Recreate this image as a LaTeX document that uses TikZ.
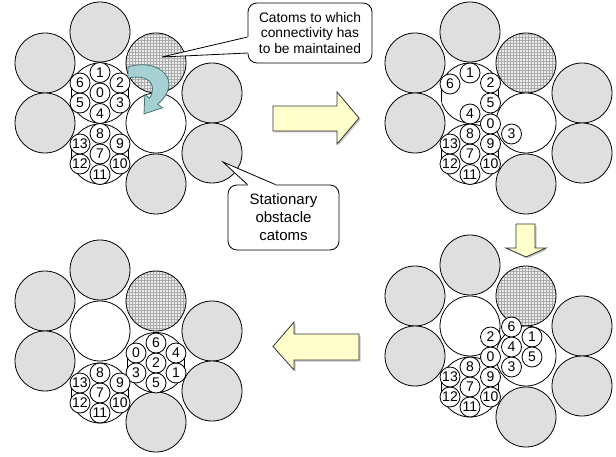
\documentclass[tikz,border=0pt]{standalone}
\usepackage{fontspec}
\setmainfont{Liberation Sans}
\usetikzlibrary{patterns}
\definecolor{arrowyellow}{HTML}{FFFFCC}
\definecolor{turnblue}{HTML}{A5D0D4}
\definecolor{turnedge}{HTML}{4A7276}
\newcommand{\metamod}[2]{% meta-module outline, flat at the sides
  \begin{scope}
    \clip ({#1-28.5},{#2-32}) rectangle ({#1+28.5},{#2+32});
    \draw[fill=white] (#1,#2) circle (30pt);
  \end{scope}
  \draw ({#1-28.5},{#2-9.4}) -- ({#1-28.5},{#2+9.4});
  \draw ({#1+28.5},{#2-9.4}) -- ({#1+28.5},{#2+9.4});
}
\newcommand{\obstacles}{% stationary catoms and the catom to stay connected to
  \foreach \x/\y in {100/32, 45/63, 45/123, 212/93, 212/153, 156/184}
    \draw[obstacle] (\x,\y) circle (30pt);
  \fill[gray!15] (156,63) circle (30pt);
  \fill[pattern=grid, pattern color=gray!65] (156,63) circle (30pt);
  \draw (156,63) circle (30pt);
}
\begin{document}
\begin{tikzpicture}[x=1pt, y=-1pt, line width=0.8pt,
  obstacle/.style={draw, fill=gray!25},
  hole/.style={draw, fill=white},
  catom/.style={circle, draw, fill=white, minimum size=20pt, inner sep=0pt, font=\fontsize{14}{14}\selectfont},
  callout/.style={draw, fill=white, rounded corners=9pt, align=center, inner sep=0pt},
  bigarrow/.style={draw=black!80, fill=arrowyellow},
  turnarrow/.style={draw=turnedge, fill=turnblue}]
\useasboundingbox (0,0) rectangle (616,457);

% panel 1: start
\obstacles
\draw[hole] (156,123) circle (30pt); % free place
\metamod{100}{93} \metamod{100}{154}
\foreach \n/\x/\y in {0/100/93, 1/100/72.5, 2/120/83, 3/120/103, 4/100/113.5, 5/80/103, 6/80/83,
    7/100/154, 8/100/133.5, 9/120/144, 10/120/164, 11/100/174.5, 12/80/164, 13/80/144}
  \node[catom] (a\n) at (\x,\y) {\n};
\draw[turnarrow] (128,67) .. controls (160,57) and (184,82) .. (157.6,104.2) -- (162.4,107.8) -- (144,114)
  -- (144.8,94.6) -- (149.6,98.2) .. controls (158,84) and (148,74) .. (128,78) -- cycle; % move

% panel 2
\begin{scope}[shift={(370,0)}]
  \obstacles
  \draw[hole] (156,123) circle (30pt);
  \metamod{100}{93} \metamod{100}{154}
  \foreach \n/\x/\y in {0/120.5/124, 1/100/73, 2/120.5/83, 3/141.5/134, 4/100/114, 5/120.5/103, 6/80/84,
      7/100/154, 8/100/134, 9/120.5/144, 10/120.5/164, 11/100/174.5, 12/80/164, 13/80/144}
    \node[catom] (b\n) at (\x,\y) {\n};
\end{scope}

% panel 3
\begin{scope}[shift={(370,233)}]
  \obstacles
  \draw[hole] (100,93) circle (30pt);
  \draw[hole] (156,123) circle (30pt);
  \metamod{100}{154}
  \foreach \n/\x/\y in {0/120.5/124, 1/162/104, 2/120.5/104, 3/141.5/134, 4/141.5/114, 5/162/124, 6/141.5/94,
      7/100/154, 8/100/134, 9/120.5/144, 10/120.5/164, 11/100/174, 12/80/164, 13/80/144}
    \node[catom] (c\n) at (\x,\y) {\n};
\end{scope}

% panel 4: end
\begin{scope}[shift={(0,238)}]
  \obstacles
  \draw[hole] (100,93) circle (30pt);
  \metamod{156}{124.5} \metamod{100}{155}
  \foreach \n/\x/\y in {0/136/115, 1/176/135, 2/156/125, 3/136/135, 4/176/115, 5/156/145, 6/156/105,
      7/100/155, 8/100/135, 9/120/145, 10/120/165, 11/100/175, 12/80/165, 13/80/145}
    \node[catom] (d\n) at (\x,\y) {\n};
\end{scope}

% block arrows between the panels
\fill[gray!45, xshift=1.5pt, yshift=-1.5pt] (273,106) -- (337,106) -- (337,92) -- (359,118) -- (337,144) -- (337,131) -- (273,131) -- cycle;
\draw[bigarrow] (273,106) -- (337,106) -- (337,92) -- (359,118) -- (337,144) -- (337,131) -- (273,131) -- cycle;
\fill[gray!45, xshift=1.5pt, yshift=-1.5pt] (516,224) -- (535,224) -- (535,248) -- (546,248) -- (526,257) -- (506,248) -- (516,248) -- cycle;
\draw[bigarrow] (516,224) -- (535,224) -- (535,248) -- (546,248) -- (526,257) -- (506,248) -- (516,248) -- cycle;
\fill[gray!45, xshift=1.5pt, yshift=-1.5pt] (359,334) -- (294,334) -- (294,322) -- (273,346.5) -- (294,370) -- (294,360) -- (359,360) -- cycle;
\draw[bigarrow] (359,334) -- (294,334) -- (294,322) -- (273,346.5) -- (294,370) -- (294,360) -- (359,360) -- cycle;

% callouts
\node[callout, minimum width=124pt, minimum height=60pt, font=\fontsize{13.8}{15.5}\selectfont] (connbox) at (310,33)
  {Catoms to which\\connectivity has\\to be maintained};
\coordinate (conntip) at (162,57);
\fill[white] ([yshift=-4pt]connbox.west) -- (conntip) -- ([yshift=-20pt]connbox.west)
  -- ([xshift=2pt,yshift=-20pt]connbox.west) -- ([xshift=2pt,yshift=-4pt]connbox.west) -- cycle;
\draw ([yshift=-4pt]connbox.west) -- (conntip) -- ([yshift=-20pt]connbox.west);

\node[callout, minimum width=111pt, minimum height=65pt, font=\fontsize{15}{18}\selectfont] (obsbox) at (283.5,217.5)
  {Stationary\\obstacle\\catoms};
\coordinate (obstip) at (223,162);
\fill[white] ([xshift=-36pt]obsbox.north) -- (obstip) -- ([xshift=-8pt]obsbox.north)
  -- ([xshift=-8pt,yshift=-2pt]obsbox.north) -- ([xshift=-36pt,yshift=-2pt]obsbox.north) -- cycle;
\draw ([xshift=-36pt]obsbox.north) -- (obstip) -- ([xshift=-8pt]obsbox.north);
\end{tikzpicture}
\end{document}
